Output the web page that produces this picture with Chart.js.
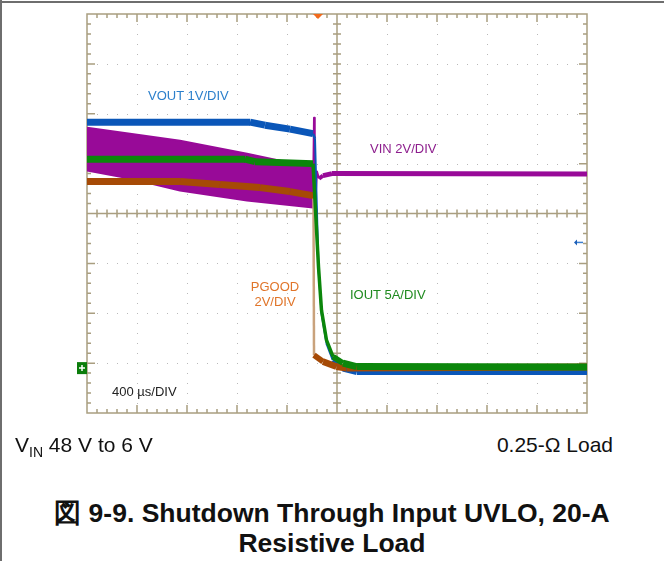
<!DOCTYPE html>
<html>
<head>
<meta charset="utf-8">
<script src="https://cdn.jsdelivr.net/npm/chart.js@4/dist/chart.umd.min.js"></script>
<style>
  html, body { margin: 0; padding: 0; background: #fff; }
  body { width: 664px; height: 561px; position: relative; overflow: hidden;
         font-family: "Liberation Sans", Arial, sans-serif; }
  #frameTop { position: absolute; left: 0; top: 1px; width: 664px; height: 2px; background: #6e6e6e; }
  #frameLeft { position: absolute; left: 0; top: 0; width: 2px; height: 561px; background: #6e6e6e; }
  #scope { position: absolute; left: 0; top: 0; }
  .lbl { position: absolute; font-size: 13px; white-space: nowrap; line-height: 15px; }
  .cap { position: absolute; font-size: 21px; line-height: 24px; white-space: nowrap; color: #111; }
  .title { position: absolute; left: 0; width: 664px; text-align: center; font-weight: bold;
           font-size: 26.5px; line-height: 30px; color: #111; white-space: nowrap; }
</style>
</head>
<body>
<div id="frameTop"></div>
<div id="frameLeft"></div>
<canvas id="scope" width="664" height="430"></canvas>

<div class="lbl" style="left:148px; top:88px; color:#2b7fcb;">VOUT 1V/DIV</div>
<div class="lbl" style="left:370px; top:141px; color:#8d1e8d;">VIN 2V/DIV</div>
<div class="lbl" style="left:248px; top:279px; width:54px; text-align:center; color:#e0752a;">PGOOD<br>2V/DIV</div>
<div class="lbl" style="left:350px; top:287px; color:#1f8a1f;">IOUT 5A/DIV</div>
<div class="lbl" style="left:112px; top:384px; color:#222;">400 &micro;s/DIV</div>

<div class="cap" style="left:15px; top:433px;">V<sub style="font-size:14px; vertical-align:-5px;">IN</sub> 48 V to 6 V</div>
<div class="cap" style="right:51px; top:433px;">0.25-&Omega; Load</div>
<div class="title" style="top:498px;">図 9-9. Shutdown Through Input UVLO, 20-A</div>
<div class="title" style="top:528px;">Resistive Load</div>

<script>
// x in divisions (400 us/div), y in divisions from the bottom of the screen
const VOUT_X = [0, 3.26, 3.56, 4.06, 4.52, 4.56, 4.6, 4.63, 4.69, 4.79, 4.92, 5.12, 5.4, 10];
const VOUT_Y = [5.83, 5.83, 5.77, 5.69, 5.6, 5.5, 4.0, 2.9, 2.0, 1.4, 1.06, 0.9, 0.83, 0.83];

const IOUT_X = [0, 3.16, 3.36, 4.52, 4.56, 4.63, 4.69, 4.79, 4.92, 5.12, 5.39, 10];
const IOUT_Y = [5.09, 5.09, 5.04, 5.0, 4.26, 2.93, 2.06, 1.46, 1.13, 1.0, 0.93, 0.92];

const PGOOD_X = [0, 1.86, 2.66, 3.46, 4.06, 4.52, 4.53, 4.54, 4.72, 4.99, 5.19, 10];
const PGOOD_Y = [4.64, 4.64, 4.58, 4.52, 4.44, 4.36, 4.3, 1.16, 1.03, 0.93, 0.9, 0.92];

// VIN ripple envelope before shutdown
const VIN_BAND_X = [0, 0.86, 1.86, 3.2, 4.52];
const VIN_HIGH = [5.72, 5.6, 5.46, 5.2, 4.92];
const VIN_LOW = [4.86, 4.7, 4.46, 4.26, 4.12];
// VIN after the UVLO event
const VIN_X = [4.52, 4.54, 4.555, 4.6, 4.64, 4.72, 4.9, 10];
const VIN_Y = [4.3, 5.92, 4.0, 4.84, 4.7, 4.76, 4.8, 4.79];

const pts = (xs, ys) => xs.map((x, i) => ({ x, y: ys[i] }));

const C_BLUE = '#0a56b8', C_GREEN = '#0b860b', C_ORANGE = '#a64a06', C_PURPLE = '#980a98';
const C_GRID = '#a99e80';

// scope noise is vertical: a band of fixed height looks thinner on steep edges
const bandWidth = (thin, wide) => ctx => {
  const dx = ctx.p1.x - ctx.p0.x, dy = ctx.p1.y - ctx.p0.y;
  return Math.max(thin, wide * Math.abs(dx) / (Math.hypot(dx, dy) || 1));
};
const steep = ctx => Math.abs(ctx.p1.y - ctx.p0.y) > 6 * Math.abs(ctx.p1.x - ctx.p0.x);

const scopeGrid = {
  id: 'scopeGrid',
  beforeDatasetsDraw(chart) {
    const { ctx, scales: { x, y } } = chart;
    const L = x.getPixelForValue(0), R = x.getPixelForValue(10);
    const T = y.getPixelForValue(8), B = y.getPixelForValue(0);
    const cx = x.getPixelForValue(5), cy = y.getPixelForValue(4);
    ctx.save();
    // dotted graticule
    ctx.fillStyle = '#b9b9b9';
    for (let i = 1; i < 10; i++) {
      if (i === 5) continue;
      const px = Math.round(x.getPixelForValue(i));
      for (let j = 1; j < 40; j++) ctx.fillRect(px, Math.round(y.getPixelForValue(j * 0.2)), 1, 1);
    }
    for (let j = 1; j < 8; j++) {
      if (j === 4) continue;
      const py = Math.round(y.getPixelForValue(j));
      for (let i = 1; i < 50; i++) ctx.fillRect(Math.round(x.getPixelForValue(i * 0.2)), py, 1, 1);
    }
    ctx.strokeStyle = C_GRID;
    ctx.lineWidth = 1.5;
    ctx.strokeRect(L, T, R - L, B - T);
    ctx.beginPath();
    ctx.moveTo(cx, T); ctx.lineTo(cx, B);
    ctx.moveTo(L, cy); ctx.lineTo(R, cy);
    // ticks on border and centre axes
    for (let i = 1; i < 50; i++) {
      const px = x.getPixelForValue(i * 0.2);
      const len = i % 5 === 0 ? 8 : 4;
      ctx.moveTo(px, T); ctx.lineTo(px, T + len);
      ctx.moveTo(px, B); ctx.lineTo(px, B - len);
      ctx.moveTo(px, cy - 4); ctx.lineTo(px, cy + 4);
    }
    for (let j = 1; j < 40; j++) {
      const py = y.getPixelForValue(j * 0.2);
      const len = j % 5 === 0 ? 8 : 4;
      ctx.moveTo(L, py); ctx.lineTo(L + len, py);
      ctx.moveTo(R, py); ctx.lineTo(R - len, py);
      ctx.moveTo(cx - 4, py); ctx.lineTo(cx + 4, py);
    }
    ctx.stroke();
    ctx.restore();
  },
  afterDraw(chart) {
    const { ctx, scales: { x, y } } = chart;
    const T = y.getPixelForValue(8), L = x.getPixelForValue(0), R = x.getPixelForValue(10);
    ctx.save();
    // trigger position marker
    const tx = x.getPixelForValue(4.62);
    ctx.fillStyle = '#f26a1c';
    ctx.beginPath();
    ctx.moveTo(tx - 5, T); ctx.lineTo(tx + 5, T); ctx.lineTo(tx, T + 5); ctx.closePath();
    ctx.fill();
    // channel ground marker
    const gy = y.getPixelForValue(0.9);
    ctx.fillStyle = '#0b7d0b';
    ctx.fillRect(L - 10, gy - 6, 10, 12);
    ctx.strokeStyle = '#fff';
    ctx.lineWidth = 1.5;
    ctx.beginPath();
    ctx.moveTo(L - 8, gy); ctx.lineTo(L - 2, gy);
    ctx.moveTo(L - 5, gy - 3); ctx.lineTo(L - 5, gy + 3);
    ctx.stroke();
    // blue reference arrow
    const ay = y.getPixelForValue(3.42);
    ctx.strokeStyle = '#3c7fd0';
    ctx.fillStyle = '#1c5fb8';
    ctx.lineWidth = 1.5;
    ctx.beginPath(); ctx.moveTo(R - 11, ay); ctx.lineTo(R - 4, ay); ctx.stroke();
    ctx.beginPath(); ctx.moveTo(R - 13, ay); ctx.lineTo(R - 10, ay - 3); ctx.lineTo(R - 10, ay + 3); ctx.closePath(); ctx.fill();
    ctx.restore();
  }
};

new Chart(document.getElementById('scope'), {
  type: 'line',
  data: {
    datasets: [
      { label: 'IOUT', data: pts(IOUT_X, IOUT_Y), borderColor: C_GREEN, borderWidth: 7, order: 1,
        segment: { borderWidth: bandWidth(3.5, 7) } },
      { label: 'VOUT', data: pts(VOUT_X, VOUT_Y), borderColor: C_BLUE, borderWidth: 7, order: 3,
        segment: { borderWidth: bandWidth(2, 7) } },
      { label: 'PGOOD', data: pts(PGOOD_X, PGOOD_Y), borderColor: C_ORANGE, borderWidth: 7, order: 2,
        segment: { borderWidth: bandWidth(2.5, 7), borderColor: ctx => steep(ctx) ? '#c9a27c' : C_ORANGE } },
      { label: 'VIN low', data: pts(VIN_BAND_X, VIN_LOW), borderColor: C_PURPLE, borderWidth: 2, order: 5 },
      { label: 'VIN high', data: pts(VIN_BAND_X, VIN_HIGH), borderColor: C_PURPLE, borderWidth: 2,
        backgroundColor: C_PURPLE, fill: '-1', order: 4 },
      { label: 'VIN', data: pts(VIN_X, VIN_Y), borderColor: C_PURPLE, borderWidth: 5, order: 4,
        segment: { borderWidth: bandWidth(2, 5) } }
    ]
  },
  options: {
    animation: false,
    responsive: false,
    devicePixelRatio: 1,
    layout: { padding: { left: 87, top: 14, right: 77, bottom: 17 } },
    elements: { point: { radius: 0 }, line: { tension: 0, borderJoinStyle: 'round', borderCapStyle: 'butt' } },
    plugins: { legend: { display: false }, tooltip: { enabled: false } },
    scales: {
      x: { type: 'linear', min: 0, max: 10, display: false },
      y: { type: 'linear', min: 0, max: 8, display: false }
    }
  },
  plugins: [scopeGrid]
});
</script>
</body>
</html>
